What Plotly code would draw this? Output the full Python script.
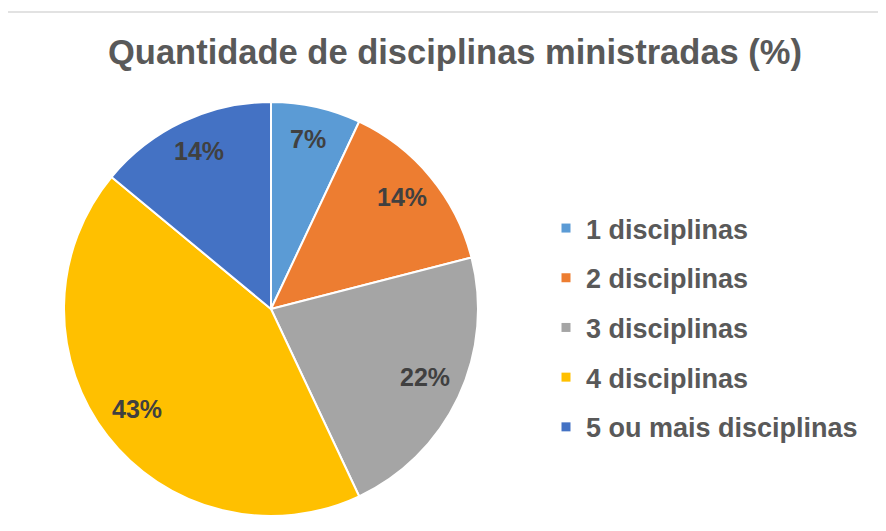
import math
import plotly.graph_objects as go

labels = ["1 disciplinas", "2 disciplinas", "3 disciplinas", "4 disciplinas", "5 ou mais disciplinas"]
values = [7, 14, 22, 43, 14]
colors = ["#5B9BD5", "#ED7D31", "#A5A5A5", "#FFC000", "#4472C4"]
title_text = "Quantidade de disciplinas ministradas (%)"

W, H = 886, 531
cx, cy, r = 263, 301, 207
label_frac = 0.82

fig = go.Figure()
fig.add_trace(go.Pie(
    labels=labels, values=values, sort=False, direction="clockwise", rotation=0,
    marker=dict(colors=colors, line=dict(color="white", width=2)),
    textinfo="none", showlegend=False, hoverinfo="label+percent",
    domain=dict(x=[(cx - r) / W, (cx + r) / W], y=[(H - cy - r) / H, (H - cy + r) / H]),
))
for lab, col in zip(labels, colors):
    fig.add_trace(go.Scatter(
        x=[None], y=[None], mode="markers", name=lab, legendgroup=lab,
        marker=dict(symbol="square", size=9, color=col), showlegend=True,
    ))

# data labels placed at the middle angle of each slice
total = sum(values)
annotations = []
cum = 0
for v in values:
    mid = (cum + v / 2) / total * 2 * math.pi
    cum += v
    px = cx + label_frac * r * math.sin(mid)
    py = cy - label_frac * r * math.cos(mid)
    annotations.append(dict(
        x=px / W, y=1 - py / H, xref="paper", yref="paper", text=f"{v}%", showarrow=False,
        xanchor="center", yanchor="middle", yshift=4,
        font=dict(family="Liberation Sans", size=25, color="#404040", weight="bold"),
    ))

fig.update_layout(
    width=W, height=H, margin=dict(l=0, r=0, t=0, b=0),
    paper_bgcolor="white", plot_bgcolor="white",
    xaxis=dict(visible=False), yaxis=dict(visible=False),
    title=dict(text=title_text, x=447 / W, xanchor="center", y=1 - 44 / H, yanchor="middle",
               font=dict(family="Liberation Sans", size=34.5, color="#595959", weight="bold")),
    legend=dict(x=538 / W, xanchor="left", y=1 - 196 / H, yanchor="top",
                font=dict(family="Liberation Sans", size=27, color="#595959", weight="bold"),
                tracegroupgap=11.6, bgcolor="rgba(0,0,0,0)", itemclick=False),
    annotations=annotations,
    shapes=[dict(type="rect", xref="paper", yref="paper", x0=-3 / W, x1=1.05, y0=-0.05, y1=1 - 4 / H,
                 line=dict(color="#D9D9D9", width=1.5), layer="below")],
)
fig.write_html("out.html")
